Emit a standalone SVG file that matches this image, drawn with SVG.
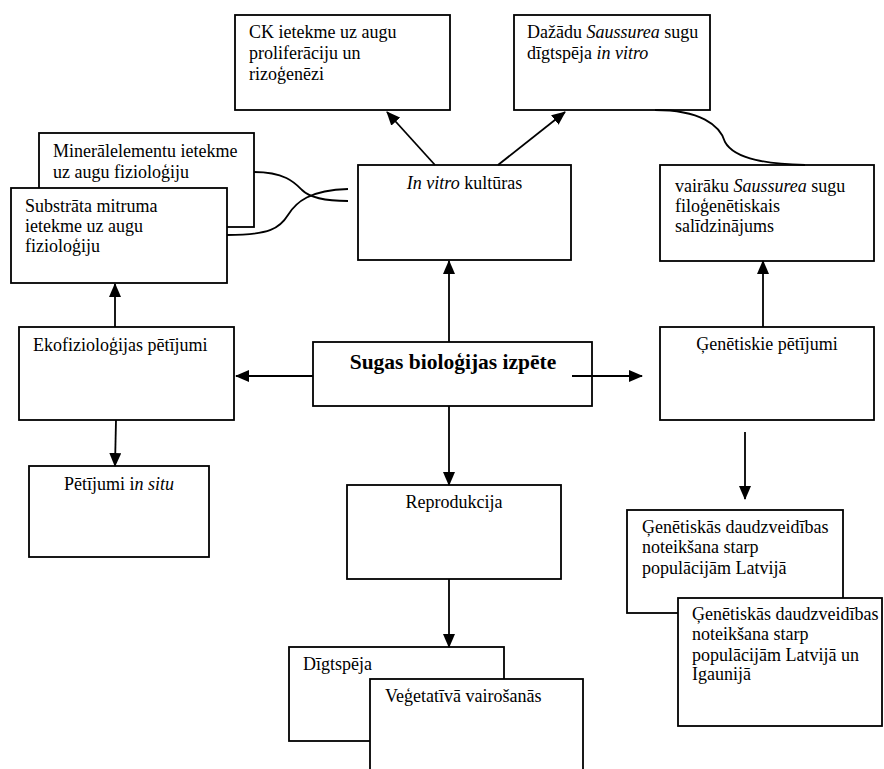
<svg xmlns="http://www.w3.org/2000/svg" width="884" height="769" viewBox="0 0 884 769">
<defs>
<style>
.b{fill:#fff;stroke:#000;stroke-width:1.8}
.t{font-family:"Liberation Serif","Times New Roman",serif;font-size:18px;fill:#000}
.c{text-anchor:middle}
.i{font-style:italic}
.bold{font-weight:bold;font-size:21.5px}
.e{fill:none;stroke:#000;stroke-width:1.8}
.a{fill:none;stroke:#000;stroke-width:1.8;marker-end:url(#ah)}
</style>
<marker id="ah" markerUnits="userSpaceOnUse" markerWidth="14" markerHeight="12" refX="13" refY="6" orient="auto" viewBox="0 0 14 12">
<path d="M0,0 L14,6 L0,12 Z" fill="#000"/>
</marker>
</defs>
<rect width="884" height="769" fill="#fff"/>

<g id="ck">
<rect class="b" x="235" y="15" width="215" height="95"/>
<text class="t" x="249" y="38">CK ietekme uz augu</text>
<text class="t" x="249" y="59">proliferāciju un</text>
<text class="t" x="249" y="80">rizoģenēzi</text>
</g>
<g id="dazadu">
<rect class="b" x="514" y="15" width="196" height="95"/>
<text class="t" x="527" y="38">Dažādu <tspan class="i">Saussurea</tspan> sugu</text>
<text class="t" x="527" y="59">dīgtspēja <tspan class="i">in vitro</tspan></text>
</g>
<g id="invitro">
<rect class="b" x="358" y="165" width="213" height="95"/>
<text class="t c" x="464.5" y="189"><tspan class="i">In vitro</tspan> kultūras</text>
</g>
<g id="vairaku">
<rect class="b" x="660" y="165" width="214" height="96"/>
<text class="t" x="675" y="192">vairāku <tspan class="i">Saussurea</tspan> sugu</text>
<text class="t" x="675" y="212">filoģenētiskais</text>
<text class="t" x="675" y="232">salīdzinājums</text>
</g>
<g id="mineral">
<rect class="b" x="39" y="133" width="215" height="94"/>
<text class="t" x="53" y="157">Minerālelementu ietekme</text>
<text class="t" x="53" y="178">uz augu fizioloģiju</text>
</g>
<g id="substrata">
<rect class="b" x="11" y="188" width="216" height="95"/>
<text class="t" x="25" y="212">Substrāta mitruma</text>
<text class="t" x="25" y="232">ietekme uz augu</text>
<text class="t" x="25" y="252">fizioloģiju</text>
</g>
<g id="eko">
<rect class="b" x="19" y="327" width="215" height="93"/>
<text class="t" x="33" y="351">Ekofizioloģijas pētījumi</text>
</g>
<g id="sugas">
<rect class="b" x="313" y="342" width="279" height="64"/>
<text class="t c bold" x="453" y="369">Sugas bioloģijas izpēte</text>
</g>
<g id="genetiskie">
<rect class="b" x="660" y="327" width="214" height="93"/>
<text class="t c" x="767" y="350">Ģenētiskie pētījumi</text>
</g>
<g id="insitu">
<rect class="b" x="29" y="466" width="180" height="91"/>
<text class="t c" x="119" y="490">Pētījumi i<tspan class="i">n situ</tspan></text>
</g>
<g id="reprodukcija">
<rect class="b" x="347" y="485" width="214" height="94"/>
<text class="t c" x="454" y="508">Reprodukcija</text>
</g>
<g id="digtspeja">
<rect class="b" x="289" y="647" width="215" height="94"/>
<text class="t" x="303" y="670">Dīgtspēja</text>
</g>
<g id="vegetativa">
<rect class="b" x="370" y="679" width="213" height="100"/>
<text class="t" x="385" y="702">Veģetatīvā vairošanās</text>
</g>
<g id="genlatvija">
<rect class="b" x="627" y="510" width="216" height="103"/>
<text class="t" x="642" y="533">Ģenētiskās daudzveidības</text>
<text class="t" x="642" y="553">noteikšana starp</text>
<text class="t" x="642" y="574">populācijām Latvijā</text>
</g>
<g id="genlatvijaigaunija">
<rect class="b" x="678" y="598" width="204" height="128"/>
<text class="t" x="692" y="620">Ģenētiskās daudzveidības</text>
<text class="t" x="692" y="640">noteikšana starp</text>
<text class="t" x="692" y="661">populācijām Latvijā un</text>
<text class="t" x="692" y="680">Igaunijā</text>
</g>

<g id="connectors">
<path class="e" d="M254,172 C285,172 295,183 302,190 S325,201 348,201"/>
<path class="e" d="M227,235 C270,235 280,228 288,215 S310,190 348,189"/>
<path class="e" d="M655,110 C700,110 720,125 725,142 C735,160 770,164 805,165"/>
<path class="a" d="M435,165 L387,112"/>
<path class="a" d="M498,165 L565,112"/>
<path class="a" d="M449,342 L449,261"/>
<path class="a" d="M313,376 L236,376"/>
<path class="a" d="M572,376 L642,376"/>
<path class="a" d="M449,406 L449,485"/>
<path class="a" d="M449,579 L449,647"/>
<path class="a" d="M115,327 L115,284"/>
<path class="a" d="M116,420 L115,466"/>
<path class="a" d="M763,327 L763,261"/>
<path class="a" d="M745,432 L745,499"/>
</g>
</svg>
